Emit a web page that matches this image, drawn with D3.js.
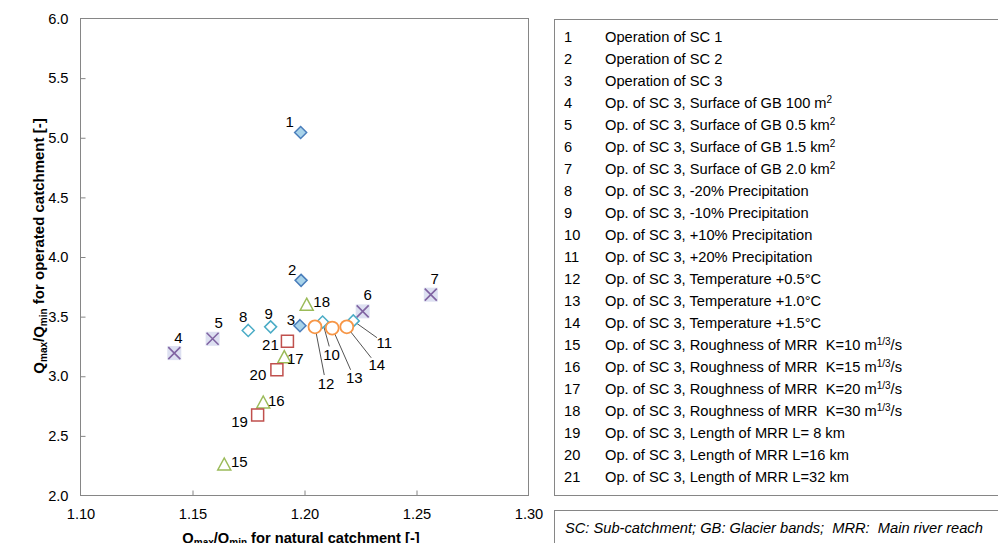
<!DOCTYPE html>
<html>
<head>
<meta charset="utf-8">
<script src="https://cdn.jsdelivr.net/npm/d3@7"></script>
<style>
  html, body { margin: 0; padding: 0; background: #fff; }
  svg { display: block; font-family: "Liberation Sans", Arial, sans-serif; }
  .pre { white-space: pre; }
</style>
</head>
<body>
<svg id="chart" width="998" height="543"></svg>
<script>
// ---------- data ----------
const pointIds = ["1","2","3","4","5","6","7","8","9","10","11","12","13","14","15","16","17","18","19","20","21"];
const naturalRatio  = [1.1985, 1.1987, 1.1982, 1.1421, 1.1592, 1.2262, 1.2566, 1.1751, 1.1851, 1.2083, 1.2220, 1.2049, 1.2126, 1.2191, 1.1644, 1.1818, 1.1912, 1.2012, 1.1793, 1.1879, 1.1926];
const operatedRatio = [5.04, 3.80, 3.42, 3.19, 3.31, 3.54, 3.68, 3.38, 3.41, 3.45, 3.46, 3.41, 3.40, 3.41, 2.26, 2.78, 3.16, 3.60, 2.67, 3.05, 3.29];
const pointGroup = ["sc","sc","sc","gb","gb","gb","gb","prec","prec","prec","prec","temp","temp","temp","rough","rough","rough","rough","len","len","len"];
const xTicks = [1.10, 1.15, 1.20, 1.25, 1.30];
const yTicks = [2.0, 2.5, 3.0, 3.5, 4.0, 4.5, 5.0, 5.5, 6.0];
const legendNumbers = pointIds;
const legendTexts = [
  ["Operation of SC 1"],
  ["Operation of SC 2"],
  ["Operation of SC 3"],
  ["Op. of SC 3, Surface of GB 100 m", "2"],
  ["Op. of SC 3, Surface of GB 0.5 km", "2"],
  ["Op. of SC 3, Surface of GB 1.5 km", "2"],
  ["Op. of SC 3, Surface of GB 2.0 km", "2"],
  ["Op. of SC 3, -20% Precipitation"],
  ["Op. of SC 3, -10% Precipitation"],
  ["Op. of SC 3, +10% Precipitation"],
  ["Op. of SC 3, +20% Precipitation"],
  ["Op. of SC 3, Temperature +0.5°C"],
  ["Op. of SC 3, Temperature +1.0°C"],
  ["Op. of SC 3, Temperature +1.5°C"],
  ["Op. of SC 3, Roughness of MRR  K=10 m", "1/3", "/s"],
  ["Op. of SC 3, Roughness of MRR  K=15 m", "1/3", "/s"],
  ["Op. of SC 3, Roughness of MRR  K=20 m", "1/3", "/s"],
  ["Op. of SC 3, Roughness of MRR  K=30 m", "1/3", "/s"],
  ["Op. of SC 3, Length of MRR L= 8 km"],
  ["Op. of SC 3, Length of MRR L=16 km"],
  ["Op. of SC 3, Length of MRR L=32 km"]
];
const footnote = "SC: Sub-catchment; GB: Glacier bands;  MRR:  Main river reach";

// ---------- layout / style ----------
const plot = { left: 80, top: 18, right: 528, bottom: 495 };
const FS = 14.67;
// label offsets (px) relative to the marker, and whether a leader line is drawn
const labelOffsets = [
  [-11,-10],[-9,-10],[-9,-6],[4,-15],[6,-16],[5,-16],[4,-16],
  [-5,-13],[-2,-13],[9,33],[31,22],[11,57],[22,50],[30,38],
  [15,-2],[13,-1],[11,2],[15,-2],[-18,7],[-19,5],[-17,4]
];
const hasLeader = [0,0,0,0,0,0,0,0,0,1,1,1,1,1,0,0,0,0,0,0,0];
const groupStyle = {
  sc:    { shape: "diamond", fill: "#a8d3ea", stroke: "#4a7ebb" },
  gb:    { shape: "x",       fill: "#dde0f1", stroke: "#8064a2" },
  prec:  { shape: "diamond", fill: "#ffffff", stroke: "#4bacc6" },
  temp:  { shape: "circle",  fill: "#ffffff", stroke: "#f79646" },
  rough: { shape: "triangle",fill: "#ffffff", stroke: "#9bbb59" },
  len:   { shape: "square",  fill: "#ffffff", stroke: "#c0504d" }
};

const svg = d3.select("#chart");
const x = d3.scaleLinear().domain([1.10, 1.30]).range([plot.left, plot.right]);
const y = d3.scaleLinear().domain([2.0, 6.0]).range([plot.bottom, plot.top]);

// frame
svg.append("rect")
  .attr("x", plot.left + 0.5).attr("y", plot.top + 0.5)
  .attr("width", plot.right - plot.left).attr("height", plot.bottom - plot.top)
  .attr("fill", "none").attr("stroke", "#868686").attr("stroke-width", 1);

// axes (ticks inward)
const xAxis = d3.axisBottom(x).tickValues(xTicks).tickFormat(d3.format(".2f")).tickSizeInner(-5).tickSizeOuter(0).tickPadding(13);
const gx = svg.append("g").attr("transform", `translate(0.5,${plot.bottom + 0.5})`).call(xAxis);
const yAxis = d3.axisLeft(y).tickValues(yTicks).tickFormat(d3.format(".1f")).tickSizeInner(-5).tickSizeOuter(0).tickPadding(12);
const gy = svg.append("g").attr("transform", `translate(${plot.left + 0.5},0.5)`).call(yAxis);
[gx, gy].forEach(g => {
  g.select(".domain").remove();
  g.selectAll(".tick line").attr("stroke", "#868686");
  g.selectAll(".tick text").attr("fill", "#000").style("font-size", FS + "px")
    .style("font-family", '"Liberation Sans", Arial, sans-serif');
});
gx.selectAll(".tick line").filter(d => d === 1.10 || d === 1.30).remove();
gy.selectAll(".tick line").filter(d => d === 2.0 || d === 6.0).remove();

// axis titles
function qTitle(sel, rest) {
  sel.append("tspan").text("Q");
  sel.append("tspan").attr("dy", 3).style("font-size", "10px").text("max");
  sel.append("tspan").attr("dy", -3).text("/Q");
  sel.append("tspan").attr("dy", 3).style("font-size", "10px").text("min");
  sel.append("tspan").attr("dy", -3).text(rest);
}
const xt = svg.append("text").attr("x", 301).attr("y", 543).attr("text-anchor", "middle")
  .style("font-size", FS + "px").style("font-weight", "bold");
qTitle(xt, " for natural catchment [-]");
const yt = svg.append("text").attr("transform", "translate(44,246) rotate(-90)").attr("text-anchor", "middle")
  .style("font-size", "15px").style("font-weight", "bold");
qTitle(yt, " for operated catchment [-]");

// marker path generator
function markerPath(shape) {
  switch (shape) {
    case "diamond": { const h = 6; return `M0,${-h}L${h},0L0,${h}L${-h},0Z`; }
    case "square":  { const h = 6; return `M${-h},${-h}H${h}V${h}H${-h}Z`; }
    case "triangle":{ const w = 6.5, h = 6; return `M0,${-h}L${w},${h}L${-w},${h}Z`; }
    default: return "";
  }
}

const pts = pointIds.map((id, i) => ({
  id, i, xv: naturalRatio[i], yv: operatedRatio[i], g: pointGroup[i],
  dx: labelOffsets[i][0], dy: labelOffsets[i][1], leader: hasLeader[i]
}));

// leader lines (below markers)
svg.append("g").selectAll("line").data(pts.filter(p => p.leader)).join("line")
  .each(function(p) {
    const px = x(p.xv), py = y(p.yv);
    const lx = px + p.dx, ly = py + p.dy;
    const vx = px - lx, vy = py - ly, n = Math.hypot(vx, vy);
    d3.select(this).attr("x1", px).attr("y1", py)
      .attr("x2", lx + vx / n * 9).attr("y2", ly + vy / n * 9);
  })
  .attr("stroke", "#404040").attr("stroke-width", 0.9);

// markers
const order = ["sc","gb","prec","temp","rough","len"];
const mg = svg.append("g");
order.forEach(gname => {
  const st = groupStyle[gname];
  const sel = mg.append("g").selectAll("g").data(pts.filter(p => p.g === gname)).join("g")
    .attr("transform", p => `translate(${x(p.xv)},${y(p.yv)})`);
  if (st.shape === "circle") {
    sel.append("circle").attr("r", 6.5).attr("fill", st.fill).attr("stroke", st.stroke).attr("stroke-width", 1.8);
  } else if (st.shape === "x") {
    sel.append("rect").attr("x", -7).attr("y", -7).attr("width", 14).attr("height", 14).attr("fill", st.fill);
    sel.append("path").attr("d", "M-6,-6L6,6M6,-6L-6,6").attr("stroke", st.stroke).attr("stroke-width", 1.6).attr("fill", "none");
  } else {
    sel.append("path").attr("d", markerPath(st.shape)).attr("fill", st.fill).attr("stroke", st.stroke).attr("stroke-width", 1.5);
  }
});

// point labels
svg.append("g").selectAll("text").data(pts).join("text")
  .attr("x", p => x(p.xv) + p.dx).attr("y", p => y(p.yv) + p.dy + 5)
  .attr("text-anchor", "middle").style("font-size", "15px").attr("fill", "#000")
  .text(p => p.id);

// legend box
svg.append("rect").attr("x", 554.5).attr("y", 19.5).attr("width", 460).attr("height", 476)
  .attr("fill", "none").attr("stroke", "#868686");
const lg = svg.append("g");
legendNumbers.forEach((n, i) => {
  const by = 42 + i * 22;
  lg.append("text").attr("x", 564).attr("y", by).style("font-size", FS + "px").text(n);
  const t = lg.append("text").attr("class", "pre").attr("x", 605).attr("y", by).style("font-size", FS + "px");
  const parts = legendTexts[i];
  t.append("tspan").text(parts[0]);
  if (parts.length > 1) {
    t.append("tspan").attr("dy", -5).style("font-size", "10px").text(parts[1]);
  }
  if (parts.length > 2) {
    t.append("tspan").attr("dy", 5).text(parts[2]);
  }
});

// footnote box
svg.append("rect").attr("x", 554.5).attr("y", 510.5).attr("width", 460).attr("height", 60)
  .attr("fill", "none").attr("stroke", "#868686");
svg.append("text").attr("class", "pre").attr("x", 565).attr("y", 533).style("font-size", FS + "px").style("font-style", "italic")
  .text(footnote);
</script>
</body>
</html>
